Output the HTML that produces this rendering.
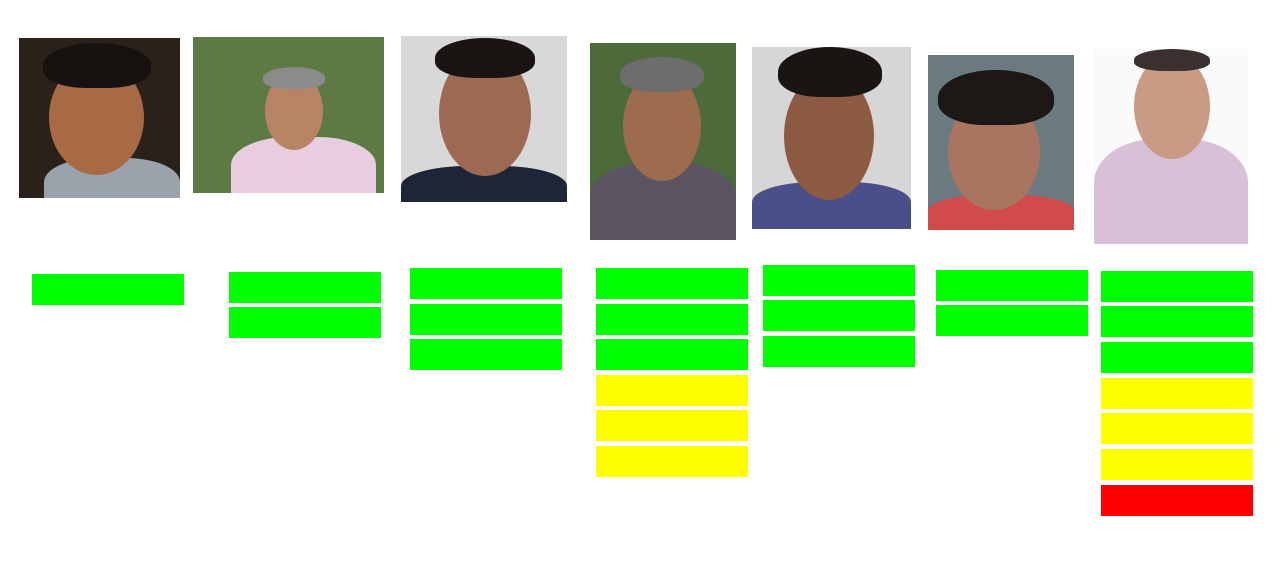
<!DOCTYPE html>
<html><head><style>
body{margin:0;width:1280px;height:562px;background:#fff;position:relative;overflow:hidden;font-family:"Liberation Sans",sans-serif}
.p{position:absolute;overflow:hidden}
.p .f{position:absolute;border-radius:50%}
.p .h{position:absolute;border-radius:50% 50% 40% 40%}
.p .s{position:absolute;border-radius:40% 40% 0 0}
.b{position:absolute;width:152px;height:31px}
.g{background:#00ff00}.y{background:#ffff00}.r{background:#ff0000}
</style></head><body>

<div class="p" style="left:19px;top:38px;width:161px;height:160px;background:#2a211b">
<div class="s" style="left:25px;top:120px;width:136px;height:60px;background:#9aa3ac"></div>
<div class="f" style="left:30px;top:22px;width:95px;height:115px;background:#a86a45"></div>
<div class="h" style="left:24px;top:5px;width:108px;height:45px;background:#151210"></div>
</div>

<div class="p" style="left:193px;top:37px;width:191px;height:156px;background:#5d7a45">
<div class="s" style="left:38px;top:100px;width:145px;height:70px;background:#e8cde0"></div>
<div class="f" style="left:72px;top:35px;width:58px;height:78px;background:#b88466"></div>
<div class="h" style="left:70px;top:30px;width:62px;height:22px;background:#8b8b8b"></div>
</div>

<div class="p" style="left:401px;top:36px;width:166px;height:166px;background:#d8d8d8">
<div class="s" style="left:0px;top:130px;width:166px;height:50px;background:#1e2538"></div>
<div class="f" style="left:38px;top:15px;width:92px;height:125px;background:#9c6a52"></div>
<div class="h" style="left:34px;top:2px;width:100px;height:40px;background:#1a1412"></div>
</div>

<div class="p" style="left:590px;top:43px;width:146px;height:197px;background:#4d6b3a">
<div class="s" style="left:0px;top:120px;width:146px;height:80px;background:#5a5560"></div>
<div class="f" style="left:33px;top:28px;width:78px;height:110px;background:#9d6b4d"></div>
<div class="h" style="left:30px;top:14px;width:84px;height:35px;background:#6d6d6d"></div>
</div>

<div class="p" style="left:752px;top:47px;width:159px;height:182px;background:#d6d6d6">
<div class="s" style="left:0px;top:135px;width:159px;height:50px;background:#4a4f8a"></div>
<div class="f" style="left:32px;top:25px;width:90px;height:128px;background:#8d5a42"></div>
<div class="h" style="left:26px;top:0px;width:104px;height:50px;background:#1a1512"></div>
</div>

<div class="p" style="left:928px;top:55px;width:146px;height:175px;background:#6a7a80">
<div class="s" style="left:0px;top:140px;width:146px;height:40px;background:#d24b4b"></div>
<div class="f" style="left:20px;top:40px;width:92px;height:115px;background:#a77560"></div>
<div class="h" style="left:10px;top:15px;width:116px;height:55px;background:#1d1715"></div>
</div>

<div class="p" style="left:1094px;top:49px;width:154px;height:195px;background:#fafafa">
<div class="s" style="left:0px;top:90px;width:154px;height:110px;background:#d7c0d8"></div>
<div class="f" style="left:40px;top:5px;width:76px;height:105px;background:#c99a84"></div>
<div class="h" style="left:40px;top:0px;width:76px;height:22px;background:#3a3030"></div>
</div>

<div class="b g" style="left:32px;top:274px"></div>

<div class="b g" style="left:229px;top:272px"></div>
<div class="b g" style="left:229px;top:307px"></div>

<div class="b g" style="left:410px;top:268px"></div>
<div class="b g" style="left:410px;top:304px"></div>
<div class="b g" style="left:410px;top:339px"></div>

<div class="b g" style="left:596px;top:268px"></div>
<div class="b g" style="left:596px;top:304px"></div>
<div class="b g" style="left:596px;top:339px"></div>
<div class="b y" style="left:596px;top:375px"></div>
<div class="b y" style="left:596px;top:410px"></div>
<div class="b y" style="left:596px;top:446px"></div>

<div class="b g" style="left:763px;top:265px"></div>
<div class="b g" style="left:763px;top:300px"></div>
<div class="b g" style="left:763px;top:336px"></div>

<div class="b g" style="left:936px;top:270px"></div>
<div class="b g" style="left:936px;top:305px"></div>

<div class="b g" style="left:1101px;top:271px"></div>
<div class="b g" style="left:1101px;top:306px"></div>
<div class="b g" style="left:1101px;top:342px"></div>
<div class="b y" style="left:1101px;top:378px"></div>
<div class="b y" style="left:1101px;top:413px"></div>
<div class="b y" style="left:1101px;top:449px"></div>
<div class="b r" style="left:1101px;top:485px"></div>
</body></html>
